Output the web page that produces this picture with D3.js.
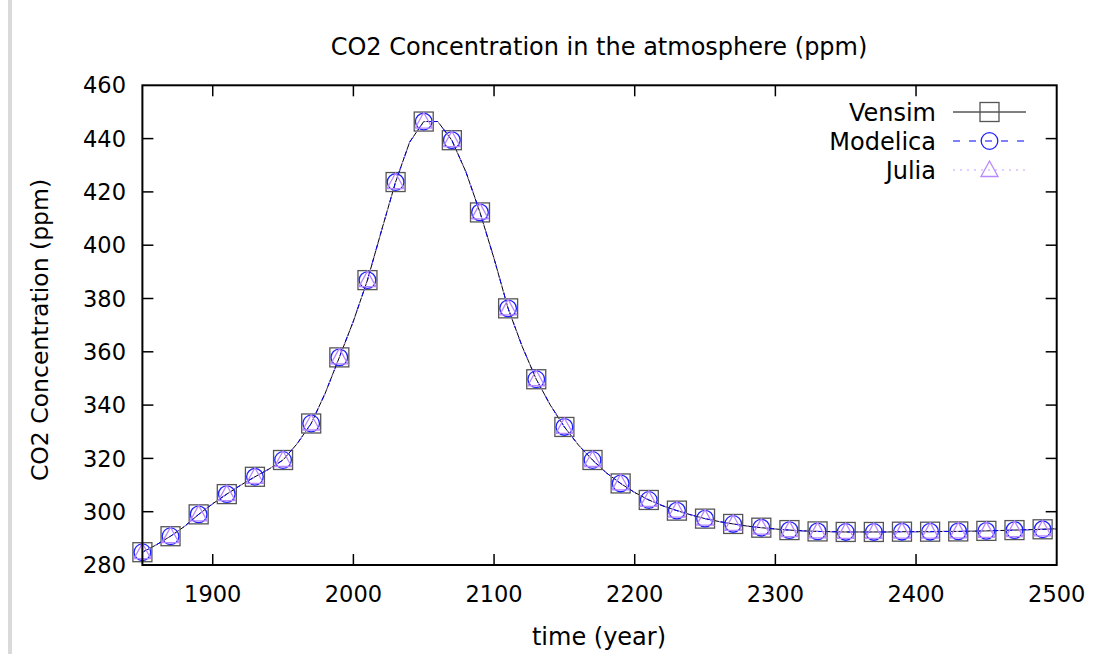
<!DOCTYPE html>
<html><head><meta charset="utf-8">
<script src="https://cdn.jsdelivr.net/npm/d3@7"></script>
<style>body{margin:0;background:#fff;}svg{display:block;font-family:"DejaVu Sans",sans-serif;}</style>
</head><body>
<svg id="c" width="1094" height="654"></svg>
<script>
const years = [1850,1860,1870,1880,1890,1900,1910,1920,1930,1940,1950,1960,1970,1980,1990,2000,2010,2020,2030,2040,2050,2060,2070,2080,2090,2100,2110,2120,2130,2140,2150,2160,2170,2180,2190,2200,2210,2220,2230,2240,2250,2260,2270,2280,2290,2300,2310,2320,2330,2340,2350,2360,2370,2380,2390,2400,2410,2420,2430,2440,2450,2460,2470,2480,2490,2500];
const vensim = [284.8,287.6,290.8,294.5,299.0,303.0,306.6,310.0,313.1,316.0,319.4,325.5,333.1,344.5,357.9,371.5,386.9,405.5,423.7,438.7,446.4,446.4,439.4,427.5,412.3,395.0,376.3,362.0,349.7,340.0,331.8,325.0,319.4,314.5,310.6,307.2,304.4,302.2,300.4,298.8,297.4,296.3,295.4,294.6,294.0,293.5,293.1,292.8,292.6,292.5,292.4,292.4,292.4,292.4,292.5,292.5,292.5,292.6,292.6,292.7,292.8,292.95,293.1,293.25,293.4,293.6];
const modelica = vensim.slice();
const julia = vensim.slice();
const markerYears = [1850,1870,1890,1910,1930,1950,1970,1990,2010,2030,2050,2070,2090,2110,2130,2150,2170,2190,2210,2230,2250,2270,2290,2310,2330,2350,2370,2390,2410,2430,2450,2470,2490];
const xTicks = [1900,2000,2100,2200,2300,2400,2500];
const yTicks = [280,300,320,340,360,380,400,420,440,460];
const seriesNames = ["Vensim","Modelica","Julia"];

const svg = d3.select("#c");
svg.append("rect").attr("x",8).attr("y",0).attr("width",4).attr("height",654).attr("fill","#dadada");

const L=142.4,R=1056.7,T=85.3,B=565;
const x = d3.scaleLinear().domain([1850,2500]).range([L,R]);
const y = d3.scaleLinear().domain([280,460]).range([B,T]);

const tl=11;
const g = svg.append("g");
xTicks.forEach(t=>{
  if(t===2500) return;
  g.append("line").attr("x1",x(t)).attr("x2",x(t)).attr("y1",B).attr("y2",B-tl).attr("stroke","#000").attr("stroke-width",1.5);
  g.append("line").attr("x1",x(t)).attr("x2",x(t)).attr("y1",T).attr("y2",T+tl).attr("stroke","#000").attr("stroke-width",1.5);
});
yTicks.forEach(t=>{
  if(t===280||t===460) return;
  g.append("line").attr("x1",L).attr("x2",L+tl).attr("y1",y(t)).attr("y2",y(t)).attr("stroke","#000").attr("stroke-width",1.5);
  g.append("line").attr("x1",R).attr("x2",R-tl).attr("y1",y(t)).attr("y2",y(t)).attr("stroke","#000").attr("stroke-width",1.5);
});
const tfs=22.5;
xTicks.forEach(t=>{
  svg.append("text").attr("x",x(t)).attr("y",594).attr("dy","0.36em").attr("text-anchor","middle").attr("font-size",tfs).text(t);
});
yTicks.forEach(t=>{
  svg.append("text").attr("x",126).attr("y",y(t)).attr("dy","0.36em").attr("text-anchor","end").attr("font-size",tfs).text(t);
});

const clipId="clp";
svg.append("clipPath").attr("id",clipId).append("rect").attr("x",L).attr("y",T).attr("width",R-L).attr("height",B-T);

const line = d3.line().x((d,i)=>x(years[i])).y(d=>y(d));
const styles = [
  {data:vensim, stroke:"#000", dash:null, w:1, mk:"square", mstroke:"#555"},
  {data:modelica, stroke:"#0000ff", dash:"7,9", w:1, mk:"circle", mstroke:"#2020ff"},
  {data:julia, stroke:"#c89cff", dash:"2,5", w:1, mk:"triangle", mstroke:"#b888ff"}
];
function drawMarker(sel, kind, cx, cy, stroke){
  if(kind==="square") sel.append("rect").attr("x",cx-9.5).attr("y",cy-9.5).attr("width",19).attr("height",19).attr("fill","none").attr("stroke",stroke).attr("stroke-width",1.3);
  else if(kind==="circle") sel.append("circle").attr("cx",cx).attr("cy",cy).attr("r",8.3).attr("fill","none").attr("stroke",stroke).attr("stroke-width",1.3);
  else sel.append("path").attr("d",`M${cx},${cy-9}L${cx+8.5},${cy+6.5}L${cx-8.5},${cy+6.5}Z`).attr("fill","none").attr("stroke",stroke).attr("stroke-width",1.3);
}
styles.forEach(s=>{
  const p = svg.append("path").attr("d",line(s.data)).attr("fill","none").attr("stroke",s.stroke).attr("stroke-width",s.w).attr("clip-path",`url(#${clipId})`);
  if(s.dash) p.attr("stroke-dasharray",s.dash);
  const mg = svg.append("g");
  markerYears.forEach(yr=>{
    const i = years.indexOf(yr);
    drawMarker(mg, s.mk, x(yr), y(s.data[i]), s.mstroke);
  });
});

svg.append("rect").attr("x",L).attr("y",T).attr("width",R-L).attr("height",B-T).attr("fill","none").attr("stroke","#000").attr("stroke-width",2);

const ly=[112,141,170];
const lfs=24;
seriesNames.forEach((n,i)=>{
  const s=styles[i];
  svg.append("text").attr("x",936).attr("y",ly[i]).attr("dy","0.36em").attr("text-anchor","end").attr("font-size",lfs).text(n);
  const l=svg.append("line").attr("x1",953).attr("x2",1026).attr("y1",ly[i]).attr("y2",ly[i]).attr("stroke",s.stroke).attr("stroke-width",1);
  if(s.dash) l.attr("stroke-dasharray",s.dash);
  drawMarker(svg, s.mk, 989.5, ly[i], s.mstroke);
});

svg.append("text").attr("x",599).attr("y",46).attr("dy","0.36em").attr("text-anchor","middle").attr("font-size",24).text("CO2 Concentration in the atmosphere (ppm)");
svg.append("text").attr("x",599).attr("y",636).attr("dy","0.36em").attr("text-anchor","middle").attr("font-size",24).text("time (year)");
svg.append("text").attr("transform","translate(40,330) rotate(-90)").attr("dy","0.36em").attr("text-anchor","middle").attr("font-size",23.5).text("CO2 Concentration (ppm)");
</script>
</body></html>
